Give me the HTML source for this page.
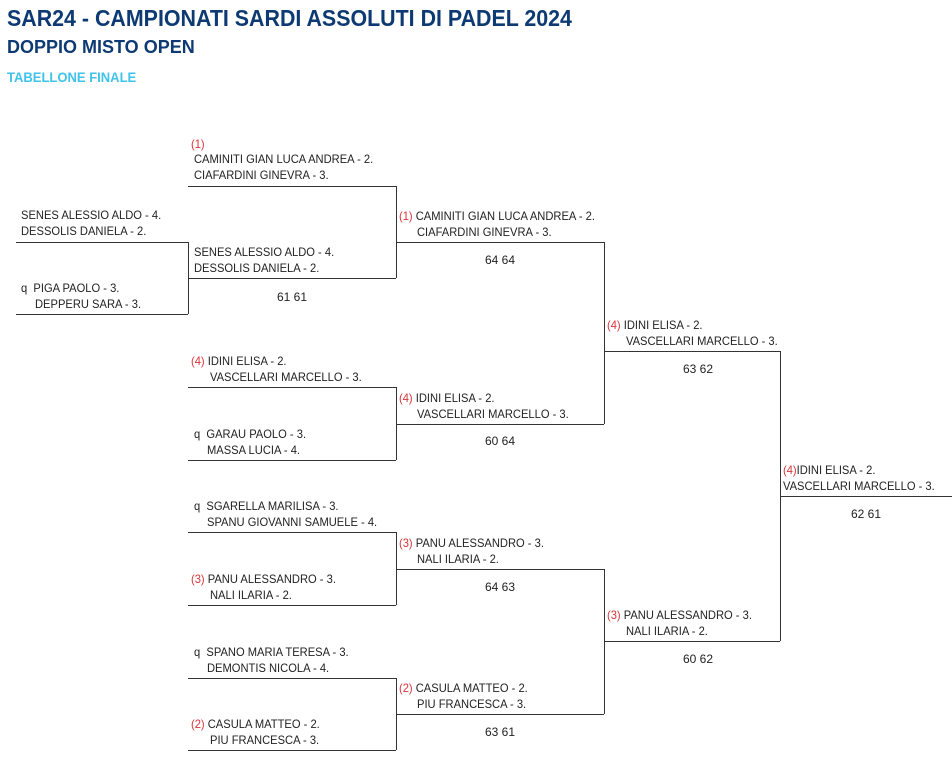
<!DOCTYPE html>
<html><head><meta charset="utf-8"><style>
body{margin:0;width:952px;height:766px;background:#fff;position:relative;overflow:hidden;font-family:"Liberation Sans Narrow","Liberation Sans",sans-serif;color:#222}
.t{position:absolute;font-size:12px;line-height:16px;white-space:nowrap;transform:scaleX(.93);transform-origin:0 0}
.r{color:#d9343a}
.h{position:absolute;border-top:1px solid #333;height:0}
.v{position:absolute;border-left:1px solid #333;width:0}
.s{position:absolute;font-size:12px;line-height:16px;text-align:center;width:100px}
</style></head><body>
<div style="position:absolute;left:7px;top:4px;font-size:23px;font-weight:bold;color:#0d3a73;line-height:28px;white-space:nowrap;transform:scaleX(.93);transform-origin:0 0">SAR24 - CAMPIONATI SARDI ASSOLUTI DI PADEL 2024</div>
<div style="position:absolute;left:7px;top:36px;font-size:18px;font-weight:bold;color:#0d3a73;line-height:22px">DOPPIO MISTO OPEN</div>
<div style="position:absolute;left:7px;top:69px;font-size:14px;font-weight:bold;color:#3fc3ea;line-height:17px;white-space:nowrap;transform:scaleX(.93);transform-origin:0 0">TABELLONE FINALE</div>

<!-- Round 1 -->
<div class="t" style="left:21px;top:207px">SENES ALESSIO ALDO - 4.</div>
<div class="t" style="left:21px;top:223px">DESSOLIS DANIELA - 2.</div>
<div class="h" style="left:16px;top:242px;width:172px"></div>
<div class="t" style="left:21px;top:280px">q&nbsp; PIGA PAOLO - 3.</div>
<div class="t" style="left:35px;top:296px">DEPPERU SARA - 3.</div>
<div class="h" style="left:16px;top:314px;width:172px"></div>
<div class="v" style="left:188px;top:242px;height:72px"></div>

<!-- Round 2 -->
<div class="t r" style="left:191px;top:136px">(1)</div>
<div class="t" style="left:194px;top:151px">CAMINITI GIAN LUCA ANDREA - 2.</div>
<div class="t" style="left:194px;top:167px">CIAFARDINI GINEVRA - 3.</div>
<div class="h" style="left:188px;top:186px;width:208px"></div>
<div class="t" style="left:194px;top:244px">SENES ALESSIO ALDO - 4.</div>
<div class="t" style="left:194px;top:260px">DESSOLIS DANIELA - 2.</div>
<div class="h" style="left:188px;top:278px;width:208px"></div>
<div class="v" style="left:396px;top:186px;height:92px"></div>
<div class="s" style="left:242px;top:289px">61 61</div>

<div class="t" style="left:191px;top:353px"><span class="r">(4)</span> IDINI ELISA - 2.</div>
<div class="t" style="left:210px;top:369px">VASCELLARI MARCELLO - 3.</div>
<div class="h" style="left:188px;top:387px;width:208px"></div>
<div class="t" style="left:194px;top:426px">q&nbsp; GARAU PAOLO - 3.</div>
<div class="t" style="left:207px;top:442px">MASSA LUCIA - 4.</div>
<div class="h" style="left:188px;top:460px;width:208px"></div>
<div class="v" style="left:396px;top:387px;height:73px"></div>

<div class="t" style="left:194px;top:498px">q&nbsp; SGARELLA MARILISA - 3.</div>
<div class="t" style="left:207px;top:514px">SPANU GIOVANNI SAMUELE - 4.</div>
<div class="h" style="left:188px;top:532px;width:208px"></div>
<div class="t" style="left:191px;top:571px"><span class="r">(3)</span> PANU ALESSANDRO - 3.</div>
<div class="t" style="left:210px;top:587px">NALI ILARIA - 2.</div>
<div class="h" style="left:188px;top:605px;width:208px"></div>
<div class="v" style="left:396px;top:532px;height:73px"></div>

<div class="t" style="left:194px;top:644px">q&nbsp; SPANO MARIA TERESA - 3.</div>
<div class="t" style="left:207px;top:660px">DEMONTIS NICOLA - 4.</div>
<div class="h" style="left:188px;top:678px;width:208px"></div>
<div class="t" style="left:191px;top:716px"><span class="r">(2)</span> CASULA MATTEO - 2.</div>
<div class="t" style="left:210px;top:732px">PIU FRANCESCA - 3.</div>
<div class="h" style="left:188px;top:750px;width:208px"></div>
<div class="v" style="left:396px;top:678px;height:72px"></div>

<!-- Round 3 -->
<div class="t" style="left:399px;top:208px"><span class="r">(1)</span> CAMINITI GIAN LUCA ANDREA - 2.</div>
<div class="t" style="left:417px;top:224px">CIAFARDINI GINEVRA - 3.</div>
<div class="h" style="left:396px;top:242px;width:208px"></div>
<div class="s" style="left:450px;top:252px">64 64</div>
<div class="t" style="left:399px;top:390px"><span class="r">(4)</span> IDINI ELISA - 2.</div>
<div class="t" style="left:417px;top:406px">VASCELLARI MARCELLO - 3.</div>
<div class="h" style="left:396px;top:424px;width:208px"></div>
<div class="s" style="left:450px;top:433px">60 64</div>
<div class="v" style="left:604px;top:242px;height:182px"></div>

<div class="t" style="left:399px;top:535px"><span class="r">(3)</span> PANU ALESSANDRO - 3.</div>
<div class="t" style="left:417px;top:551px">NALI ILARIA - 2.</div>
<div class="h" style="left:396px;top:569px;width:208px"></div>
<div class="s" style="left:450px;top:579px">64 63</div>
<div class="t" style="left:399px;top:680px"><span class="r">(2)</span> CASULA MATTEO - 2.</div>
<div class="t" style="left:417px;top:696px">PIU FRANCESCA - 3.</div>
<div class="h" style="left:396px;top:714px;width:208px"></div>
<div class="s" style="left:450px;top:724px">63 61</div>
<div class="v" style="left:604px;top:569px;height:145px"></div>

<!-- Round 4 -->
<div class="t" style="left:607px;top:317px"><span class="r">(4)</span> IDINI ELISA - 2.</div>
<div class="t" style="left:626px;top:333px">VASCELLARI MARCELLO - 3.</div>
<div class="h" style="left:604px;top:351px;width:176px"></div>
<div class="s" style="left:648px;top:361px">63 62</div>
<div class="t" style="left:607px;top:607px"><span class="r">(3)</span> PANU ALESSANDRO - 3.</div>
<div class="t" style="left:626px;top:623px">NALI ILARIA - 2.</div>
<div class="h" style="left:604px;top:641px;width:176px"></div>
<div class="s" style="left:648px;top:651px">60 62</div>
<div class="v" style="left:780px;top:351px;height:290px"></div>

<!-- Final -->
<div class="t" style="left:783px;top:462px"><span class="r">(4)</span>IDINI ELISA - 2.</div>
<div class="t" style="left:783px;top:478px">VASCELLARI MARCELLO - 3.</div>
<div class="h" style="left:780px;top:496px;width:172px"></div>
<div class="s" style="left:816px;top:506px">62 61</div>
</body></html>
